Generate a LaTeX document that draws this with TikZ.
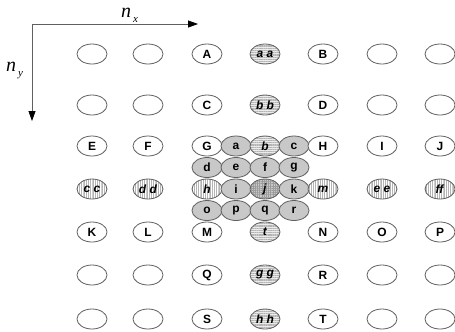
\documentclass[tikz,border=0pt]{standalone}
\usepackage{fontspec}
\setmainfont{Liberation Serif}
\setsansfont{Liberation Sans}
\usetikzlibrary{shapes.geometric,patterns.meta,arrows.meta}
\definecolor{edge}{HTML}{606060}
\definecolor{shade}{HTML}{C8C8C8}
\definecolor{lightshade}{HTML}{EBEBEB}
\definecolor{hatchc}{HTML}{B4B4B4}
\definecolor{gridc}{HTML}{9C9C9C}
\begin{document}
\begin{tikzpicture}[x=1bp,y=-1bp,
  ell/.style={ellipse, draw=edge, line width=0.8bp, minimum width=30bp, minimum height=20bp, inner sep=0pt, fill=white,
    font=\sffamily\bfseries\fontsize{12}{12}\selectfont},
  solid/.style={ell, fill=shade},
  hlines/.style={ell, preaction={fill=lightshade}, pattern={Lines[angle=0,distance=1.8bp,line width=0.25bp]}, pattern color=hatchc},
  vlines/.style={ell, preaction={fill=white}, pattern={Lines[angle=90,distance=1.8bp,line width=0.25bp]}, pattern color=hatchc},
  gridp/.style={ell, preaction={fill=shade}, pattern={Hatch[angle=0,distance=2.2bp,line width=0.25bp]}, pattern color=gridc},
  axis/.style={draw=edge, line width=0.8bp, -{Triangle[length=10bp,width=7bp,color=black]}},
  axlabel/.style={font=\rmfamily\itshape, inner sep=0pt, anchor=base west}
]
\useasboundingbox (0,0) rectangle (455,331);
% axes
\coordinate (O) at (32,24);
\coordinate (X) at (198,24);
\coordinate (Y) at (32,121);
\draw[axis] (O) -- (X);
\draw[axis] (O) -- (Y);
\node[axlabel] (nx) at (121,17) {{\fontsize{20}{20}\selectfont n}\hspace{2bp}\raisebox{-5bp}{\fontsize{11}{11}\selectfont x}};
\node[axlabel] (ny) at (6,71) {{\fontsize{20}{20}\selectfont n}\hspace{2bp}\raisebox{-5bp}{\fontsize{11}{11}\selectfont y}};
% row 1
\node[ell] (r1c1) at (92,54) {};
\node[ell] (r1c2) at (148,54) {};
\node[ell] (A) at (207,54) {A};
\node[hlines] (aa) at (265,54) {\textit{a a}};
\node[ell] (B) at (323,54) {B};
\node[ell] (r1c6) at (382,54) {};
\node[ell] (r1c7) at (440,54) {};
% row 2
\node[ell] (r2c1) at (92,105) {};
\node[ell] (r2c2) at (148,105) {};
\node[ell] (C) at (207,105) {C};
\node[hlines] (bb) at (265,105) {\textit{b b}};
\node[ell] (D) at (323,105) {D};
\node[ell] (r2c6) at (382,105) {};
\node[ell] (r2c7) at (440,105) {};
% row 3
\node[ell] (E) at (92,146) {E};
\node[ell] (F) at (148,146) {F};
\node[ell] (G) at (207,146) {G};
\node[solid] (a) at (236,146) {a};
\node[hlines] (b) at (265,146) {\textit{b}};
\node[solid] (c) at (294,146) {c};
\node[ell] (H) at (323,146) {H};
\node[ell] (I) at (382,146) {I};
\node[ell] (J) at (440,146) {J};
% row 3.5
\node[solid] (d) at (207,167.5) {d};
\node[solid] (e) at (236,167.5) {e};
\node[solid] (f) at (265,167.5) {f};
\node[solid] (g) at (294,167.5) {g};
% row 4
\node[vlines] (cc) at (92,189) {\textit{c c}};
\node[vlines] (dd) at (148,189) {\textit{d d}};
\node[vlines] (h) at (207,189) {\textit{h}};
\node[solid] (i) at (236,189) {i};
\node[gridp] (j) at (265,189) {\textit{j}};
\node[solid] (k) at (294,189) {k};
\node[vlines] (m) at (323,189) {\textit{m}};
\node[vlines] (ee) at (382,189) {\textit{e e}};
\node[vlines] (ff) at (440,189) {\textit{ff}};
% row 4.5
\node[solid] (o) at (207,210.5) {o};
\node[solid] (p) at (236,210.5) {p};
\node[solid] (q) at (265,210.5) {q};
\node[solid] (r) at (294,210.5) {r};
% row 5
\node[ell] (K) at (92,232) {K};
\node[ell] (L) at (148,232) {L};
\node[ell] (M) at (207,232) {M};
\node[hlines] (t) at (265,232) {\textit{t}};
\node[ell] (N) at (323,232) {N};
\node[ell] (O2) at (382,232) {O};
\node[ell] (P) at (440,232) {P};
% row 6
\node[ell] (r6c1) at (92,275) {};
\node[ell] (r6c2) at (148,275) {};
\node[ell] (Q) at (207,275) {Q};
\node[hlines] (gg) at (265,275) {\textit{g g}};
\node[ell] (R) at (323,275) {R};
\node[ell] (r6c6) at (382,275) {};
\node[ell] (r6c7) at (440,275) {};
% row 7
\node[ell] (r7c1) at (92,319) {};
\node[ell] (r7c2) at (148,319) {};
\node[ell] (S) at (207,319) {S};
\node[hlines] (hh) at (265,319) {\textit{h h}};
\node[ell] (T) at (323,319) {T};
\node[ell] (r7c6) at (382,319) {};
\node[ell] (r7c7) at (440,319) {};
\end{tikzpicture}
\end{document}
